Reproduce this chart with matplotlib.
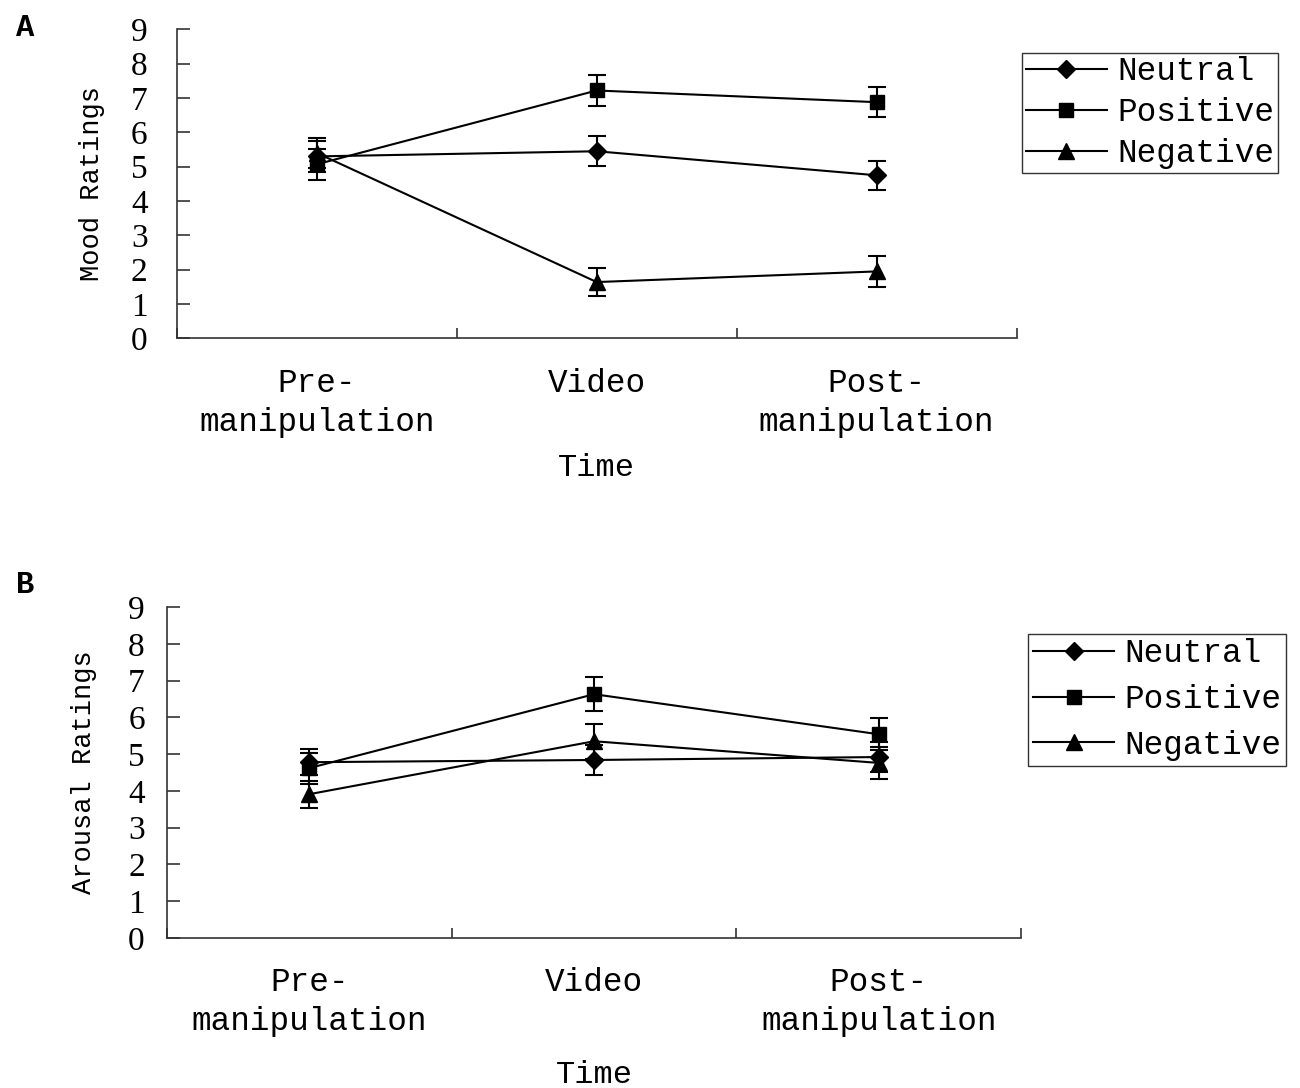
import matplotlib
matplotlib.use("Agg")
import matplotlib.pyplot as plt
from matplotlib.lines import Line2D
import numpy as np

# Datos
momentos = ["Pre-\nmanipulation", "Video", "Post-\nmanipulation"]
grupos = ["Neutral", "Positive", "Negative"]

mood_neutral = [5.30, 5.45, 4.75]
mood_positive = [5.07, 7.22, 6.88]
mood_negative = [5.40, 1.64, 1.95]
mood_err_neutral = [0.45, 0.43, 0.43]
mood_err_positive = [0.45, 0.45, 0.44]
mood_err_negative = [0.45, 0.42, 0.44]

arousal_neutral = [4.78, 4.84, 4.92]
arousal_positive = [4.62, 6.63, 5.54]
arousal_negative = [3.91, 5.35, 4.76]
arousal_err_neutral = [0.36, 0.41, 0.42]
arousal_err_positive = [0.42, 0.46, 0.44]
arousal_err_negative = [0.37, 0.47, 0.43]

marcadores = ["D", "s", "^"]
tamanos = [9, 10, 12]

MONO = "Liberation Mono"
SERIF = "Liberation Serif"


def dibujar_panel(ax, series, errores, ylabel, tick_pad, ylabel_x, leyenda_pos,
                  espaciado, borde):
    x = np.arange(1, len(momentos) + 1)
    manejadores = []
    for vals, errs, nombre, m, ms in zip(series, errores, grupos, marcadores, tamanos):
        ax.errorbar(x, vals, yerr=errs, color="black", lw=1.5, marker=m,
                    markersize=ms, capsize=6.5, capthick=1.5, elinewidth=1.5)
        manejadores.append(Line2D([], [], color="black", lw=1.5, marker=m,
                                  markersize=ms, label=nombre))
    ax.set_xlim(0.5, 3.5)
    ax.set_ylim(0, 9)
    ax.spines["top"].set_visible(False)
    ax.spines["right"].set_visible(False)
    for s in ("left", "bottom"):
        ax.spines[s].set_color("#333333")
        ax.spines[s].set_linewidth(1.2)
    ax.set_yticks(range(0, 10))
    ax.tick_params(axis="y", direction="in", length=9, width=1.2,
                   color="#333333", pad=tick_pad, labelsize=24)
    for lbl in ax.get_yticklabels():
        lbl.set_fontfamily(SERIF)
    ax.set_xticks([0.5, 1.5, 2.5, 3.5])
    ax.set_xticklabels([])
    ax.tick_params(axis="x", which="major", direction="in", length=7,
                   width=1.2, color="#333333")
    ax.set_xticks(x, minor=True)
    ax.set_xticklabels(momentos, minor=True, fontfamily=MONO, fontsize=23.5,
                       linespacing=1.35)
    ax.tick_params(axis="x", which="minor", length=0, pad=21)
    ax.set_ylabel(ylabel, fontfamily=MONO, fontsize=19.5)
    ax.yaxis.set_label_coords(ylabel_x, 0.5)
    ax.set_xlabel("Time", fontfamily=MONO, fontsize=23)
    ax.xaxis.set_label_coords(0.5, -0.37)
    leg = ax.legend(handles=manejadores, loc="upper left",
                    bbox_to_anchor=leyenda_pos,
                    prop={"family": MONO, "size": 23.5}, frameon=True,
                    fancybox=False, edgecolor="black", handlelength=2.5,
                    handletextpad=0.3, borderpad=borde, labelspacing=espaciado,
                    borderaxespad=0)
    leg.get_frame().set_linewidth(1.0)


fig = plt.figure(figsize=(13, 10.88), dpi=100)

ax1 = fig.add_axes([0.136, 0.689, 0.646, 0.284])
dibujar_panel(ax1, [mood_neutral, mood_positive, mood_negative],
              [mood_err_neutral, mood_err_positive, mood_err_negative],
              "Mood Ratings", 21, -0.086, (1.006, 0.925), 0.3, 0.12)

ax2 = fig.add_axes([0.1285, 0.138, 0.657, 0.304])
dibujar_panel(ax2, [arousal_neutral, arousal_positive, arousal_negative],
              [arousal_err_neutral, arousal_err_positive, arousal_err_negative],
              "Arousal Ratings", 16, -0.082, (1.008, 0.92), 0.45, 0.15)

fig.text(0.012, 0.988, "A", fontfamily=MONO, fontweight="bold", fontsize=22,
         va="top")
fig.text(0.012, 0.476, "B", fontfamily=MONO, fontweight="bold", fontsize=22,
         va="top")

plt.savefig("out.png", dpi=100)
